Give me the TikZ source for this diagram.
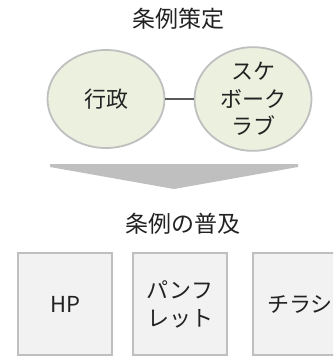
\documentclass[tikz,border=0pt]{standalone}
\usepackage{fontspec}
\setmainfont{Noto Sans CJK JP}
\usetikzlibrary{shapes.geometric}
\definecolor{ellfill}{HTML}{EBF1DE}
\definecolor{bord}{HTML}{BFBFBF}
\definecolor{boxfill}{HTML}{F2F2F2}
\definecolor{arrowgray}{HTML}{BFBFBF}
\definecolor{linkgray}{HTML}{595959}
\definecolor{txt}{HTML}{222222}
\begin{document}
\begin{tikzpicture}[x=1pt,y=-1pt,
  title/.style={font=\fontsize{23}{28}\selectfont, text=txt, inner sep=0pt},
  ell/.style={ellipse, draw=bord, fill=ellfill, line width=1.8pt, minimum width=117pt, minimum height=98pt, inner sep=0pt, align=center, font=\fontsize{22}{27.5}\selectfont, text=txt},
  box/.style={rectangle, draw=bord, fill=boxfill, line width=1.8pt, minimum width=94pt, minimum height=102pt, inner sep=0pt, align=center, font=\fontsize{22}{28}\selectfont, text=txt},
  link/.style={draw=linkgray, line width=1.8pt}]
\useasboundingbox (0,0) rectangle (333,356);
\clip (0,0) rectangle (333,356);
\node[title] (t1) at (178,19) {条例策定};
\node[ell] (gov) at (106,99) {行政};
\node[ell] (stake) at (253,99) {スケ\\ボーク\\ラブ};
\draw[link] (gov) -- (stake);
\fill[arrowgray] (50,164) -- (298,164) -- (298,167) -- (174,189) -- (50,167) -- cycle;
\node[title] (t2) at (183,224) {条例の普及};
\node[box] (hp) at (65,304) {HP};
\node[box] (pam) at (180,304) {パンフ\\レット};
\node[box] (flyer) at (300,304) {チラシ};
\end{tikzpicture}
\end{document}
